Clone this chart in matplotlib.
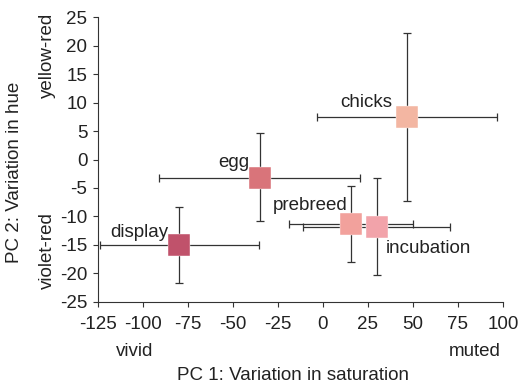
import numpy as np
import matplotlib.pyplot as plt

plt.rcParams['font.family'] = ['Liberation Sans', 'DejaVu Sans']
plt.rcParams['axes.unicode_minus'] = False

# Datos
stages = ['display', 'egg', 'prebreed', 'incubation', 'chicks']
pc1 = [-80, -35, 15.5, 30, 47]
pc2 = [-15.1, -3.2, -11.4, -11.8, 7.5]
pc1_lo = [-124, -91, -19, -11, -3]
pc1_hi = [-35.5, 20.5, 50, 70.5, 96.5]
pc2_lo = [-21.8, -10.8, -18.1, -20.3, -7.3]
pc2_hi = [-8.4, 4.6, -4.6, -3.3, 22.2]
colores = ['#c0526b', '#d9747a', '#f2a19c', '#f2a3aa', '#f3b6a2']

xticks = [-125, -100, -75, -50, -25, 0, 25, 50, 75, 100]
yticks = [-25, -20, -15, -10, -5, 0, 5, 10, 15, 20, 25]

# Etiquetas: (x, y, alineacion)
etiquetas = {
    'display': (-86, -12.8, 'right'),
    'egg': (-41, -0.5, 'right'),
    'prebreed': (13.5, -8.0, 'right'),
    'incubation': (35, -15.7, 'left'),
    'chicks': (38.5, 10.1, 'right'),
}

fs = 13.5
fig = plt.figure(figsize=(5.2, 3.85), dpi=100)
ax = fig.add_axes([0.188, 0.2164, 0.779, 0.7386])

for i, s in enumerate(stages):
    xerr = [[pc1[i] - pc1_lo[i]], [pc1_hi[i] - pc1[i]]]
    yerr = [[pc2[i] - pc2_lo[i]], [pc2_hi[i] - pc2[i]]]
    ax.errorbar(pc1[i], pc2[i], xerr=xerr, yerr=yerr, fmt='none',
                ecolor='#333333', elinewidth=0.9, capsize=3.2, capthick=0.9, zorder=2)
    ax.plot(pc1[i], pc2[i], 's', ms=15.8, color=colores[i], mec='white', mew=0.3, zorder=3)
    tx, ty, ha = etiquetas[s]
    ax.text(tx, ty, s, ha=ha, va='center', fontsize=fs, color='#222222', zorder=4)

ax.set_xlim(-125, 100)
ax.set_ylim(-25, 25)
ax.set_xticks(xticks)
ax.set_yticks(yticks)
ax.tick_params(labelsize=fs, length=3.5, width=0.8, color='#333333', labelcolor='#222222', pad=4)
ax.tick_params(axis='x', pad=7)
for lado in ['top', 'right']:
    ax.spines[lado].set_visible(False)
for lado in ['left', 'bottom']:
    ax.spines[lado].set_color('#333333')
    ax.spines[lado].set_linewidth(0.8)

W, H = 520.0, 385.0
fig.text(135 / W, 1 - 352 / H, 'vivid', ha='center', va='center', fontsize=fs, color='#222222')
fig.text(475 / W, 1 - 352 / H, 'muted', ha='center', va='center', fontsize=fs, color='#222222')
fig.text(293 / W, 1 - 376 / H, 'PC 1: Variation in saturation', ha='center', va='center', fontsize=fs, color='#222222')
fig.text(47 / W, 1 - 55 / H, 'yellow-red', ha='center', va='center', rotation=90, fontsize=fs, color='#222222')
fig.text(47 / W, 1 - 251 / H, 'violet-red', ha='center', va='center', rotation=90, fontsize=fs, color='#222222')
fig.text(15 / W, 1 - 172 / H, 'PC 2: Variation in hue', ha='center', va='center', rotation=90, fontsize=fs, color='#222222')

fig.savefig('out.png', dpi=100)
